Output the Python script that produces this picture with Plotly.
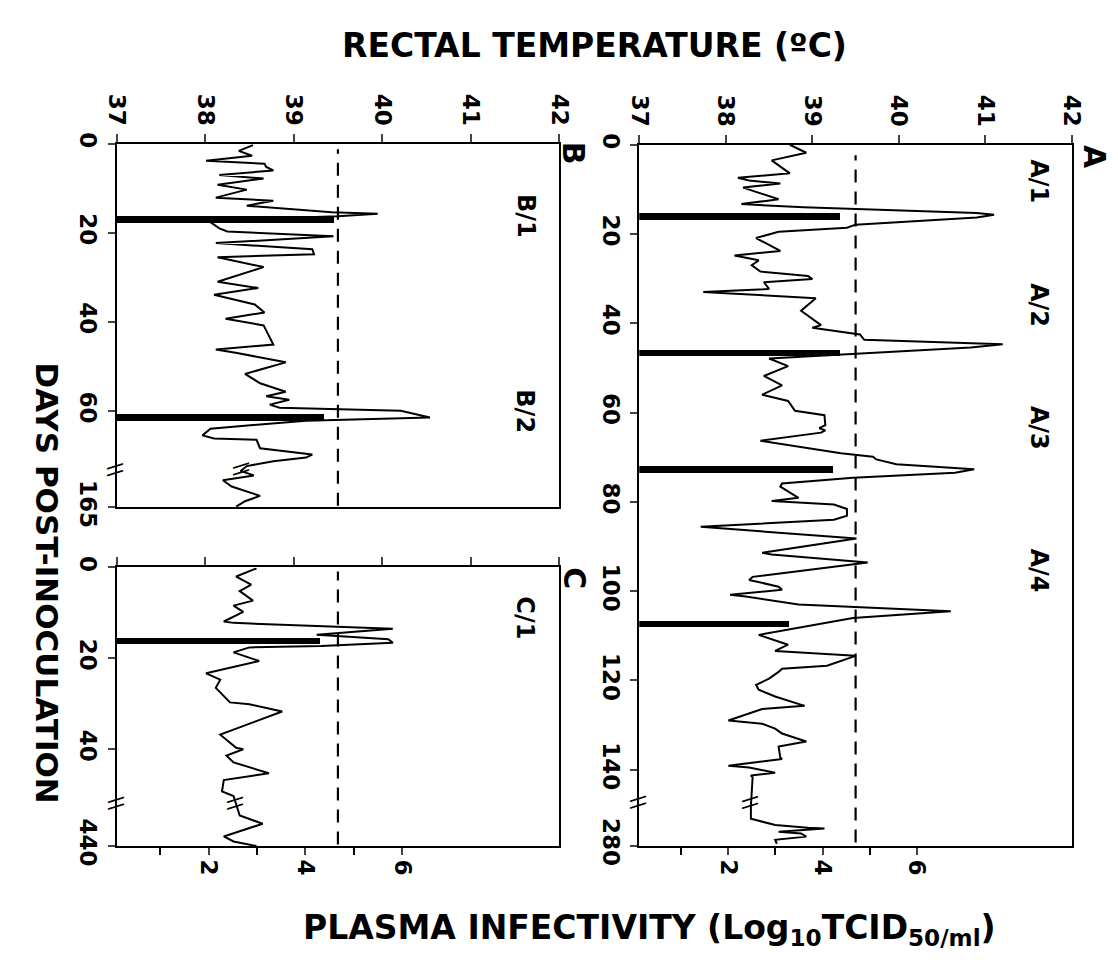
import plotly.graph_objects as go
import numpy as np

W, H = 1118, 977

# ---- panel A: rectal temperature (days post-inoculation, deg C) ----
a_days = [0, 1.8, 3.5, 6.4, 7.4, 8.0, 8.7, 9.6, 12.2, 13.3, 14.0, 15.3, 15.7, 16.3,
          17.9, 18.6, 19.5, 20.9, 23.8, 24.8, 25.9, 27.0, 28.4, 29.4, 30.1, 30.8,
          32.3, 33.0, 33.3, 34.4, 37.2, 40.4, 41.0, 42.5, 43.7, 44.7, 45.4, 46.7,
          47.0, 47.9, 49.6, 51.8, 53.9, 56.0, 57.4, 59.6, 60.6, 62.8, 63.5, 64.0,
          64.5, 66.3, 69.1, 69.9, 70.5, 71.6, 72.7, 73.5, 74.6, 75.9, 76.6, 79.1,
          79.8, 80.6, 81.6, 83.1, 84.0, 85.6, 88.2, 91.4, 91.8, 93.6, 96.8, 97.5,
          99.0, 99.7, 100.8, 101.2, 103.0, 104.5, 106.0, 109.8, 112.0, 113.4, 114.5,
          116.7, 117.4, 118.1, 119.6, 121.0, 122.1, 123.6, 125.7, 126.4, 129.0,
          129.7, 130.8, 131.9, 133.7, 134.8, 137.3, 137.6, 139.1, 139.5, 140.7,
          141.3, 141.7, 146.5,
          271.1, 274.0, 275.4, 276.0, 276.2, 276.9, 277.3, 278.0, 278.7, 279.6]
a_temp = [38.74, 38.93, 38.53, 38.74, 38.14, 38.27, 38.63, 38.20, 38.61, 38.18, 38.90,
          40.90, 41.10, 40.90, 39.50, 39.40, 38.61, 38.35, 38.63, 38.10, 38.38, 38.30,
          38.40, 38.95, 39.00, 38.44, 38.50, 37.74, 38.05, 39.04, 38.87, 39.10, 39.00,
          39.55, 39.60, 41.20, 40.83, 39.55, 39.30, 38.50, 38.72, 38.44, 38.65, 38.42,
          38.72, 38.80, 39.14, 39.15, 39.08, 39.15, 39.10, 38.40, 39.33, 39.70, 39.74,
          39.97, 40.87, 40.65, 39.47, 38.65, 38.63, 38.84, 38.53, 39.25, 39.40, 39.40,
          39.25, 37.71, 39.51, 38.42, 38.53, 39.64, 38.31, 38.27, 38.61, 38.65, 38.05,
          38.23, 38.84, 40.60, 39.47, 38.38, 38.72, 38.57, 39.50, 39.17, 38.65, 38.61,
          38.50, 38.35, 38.38, 38.57, 38.91, 38.42, 38.03, 38.42, 38.57, 38.65, 38.93,
          38.61, 38.63, 38.65, 38.03, 38.27, 38.57, 38.29, 38.31, 38.29,
          38.29, 38.29, 38.57, 38.95, 39.14, 38.61, 38.87, 38.93, 38.57, 38.59]
# plasma infectivity (log10 TCID50/ml)
a_bar_days = [16.0, 46.6, 72.7, 107.3]
a_bar_titer = [4.37, 4.37, 4.23, 3.30]
a_labels = ["A/1", "A/2", "A/3", "A/4"]

# ---- panel B ----
b_days = [0.3, 1.6, 2.7, 3.8, 4.5, 5.2, 6.0, 7.0, 7.8, 9.2, 10.3, 12.1, 12.8, 13.9,
          15.4, 15.7, 16.3, 17.2, 19.0, 19.7, 20.8, 22.3, 23.7, 24.8, 25.5, 27.7,
          31.0, 32.4, 33.9, 36.1, 37.9, 39.3, 40.8, 45.1, 46.2, 47.0, 49.1, 51.7,
          53.8, 55.7, 56.7, 57.5, 58.6, 59.3, 60.0, 61.5, 62.2, 64.0, 65.5, 66.2,
          66.5, 68.4, 69.8, 70.5, 71.3, 72.4,
          156.8, 157.8, 158.9, 160.3, 162.4, 163.6, 164.8]
b_temp = [38.54, 38.38, 38.53, 38.01, 38.67, 38.69, 38.77, 38.16, 38.66, 38.14, 38.47,
          38.12, 38.77, 38.47, 39.43, 39.95, 39.50, 38.03, 38.16, 38.25, 39.45, 38.12,
          39.21, 39.23, 38.14, 38.66, 38.14, 38.60, 38.10, 38.56, 38.67, 38.23, 38.66,
          38.77, 38.12, 38.36, 38.91, 38.45, 38.62, 38.91, 38.69, 38.95, 38.73, 38.84,
          40.21, 40.54, 39.14, 38.06, 37.97, 38.10, 38.58, 38.62, 39.21, 39.14, 38.77,
          38.47,
          38.40, 38.55, 38.20, 38.30, 38.62, 38.45, 38.35]
b_bar_days = [16.9, 61.5]
b_bar_titer = [4.59, 4.39]
b_labels = ["B/1", "B/2"]

# ---- panel C ----
c_days = [0.2, 2.0, 3.8, 5.2, 7.3, 8.4, 9.8, 11.9, 12.2, 13.5, 14.8, 15.8, 16.6, 17.3,
          17.6, 18.7, 19.4, 20.6, 23.3, 24.7, 26.5, 29.7, 30.1, 31.7, 36.8, 39.7,
          40.0, 41.4, 42.9, 45.3, 46.8, 49.3, 50.3,
          433.3, 435.1, 437.9, 439.0, 440.0]
c_temp = [38.58, 38.35, 38.52, 38.39, 38.54, 38.32, 38.43, 38.21, 38.32, 40.12, 39.26,
          40.07, 40.12, 39.31, 38.50, 38.32, 38.43, 38.61, 38.01, 38.17, 38.12, 38.28,
          38.50, 38.87, 38.17, 38.35, 38.43, 38.24, 38.32, 38.72, 38.21, 38.19, 38.32,
          38.39, 38.65, 38.21, 38.32, 38.58]
c_bar_days = [16.3]
c_bar_titer = [4.30]
c_labels = ["C/1"]

FEVER_LINE = 39.5
temp_ticks = [37, 38, 39, 40, 41, 42]


def px_x(a, b):
    return [a / W, b / W]


def px_y(top, bottom):
    return [1 - bottom / H, 1 - top / H]


def to_axis(days, brk, shift):
    # compress the stretch of days hidden by the axis break
    return [d if d <= brk else d - shift for d in days]


panels = [
    dict(days=a_days, temp=a_temp, bd=a_bar_days, bt=a_bar_titer, labels=a_labels,
         label_days=[8.2, 35.9, 63.4, 95.4], brk=147.0, shift=123.0, end=157.1,
         ticks=[0, 20, 40, 60, 80, 100, 120, 140, 280],
         dx=px_x(634, 1077), dy=px_y(130, 855), trange=[0.11, 9.29],
         top_labels=True, bottom_ticks=True, letter="A", letter_px=(1100, 143)),
    dict(days=b_days, temp=b_temp, bd=b_bar_days, bt=b_bar_titer, labels=b_labels,
         label_days=[16.1, 60.0], brk=72.8, shift=83.3, end=81.7,
         ticks=[0, 20, 40, 60, 165],
         dx=px_x(99, 552), dy=px_y(129, 505), trange=[0.1, 9.25],
         top_labels=True, bottom_ticks=False, letter="B", letter_px=(567, 139)),
    dict(days=c_days, temp=c_temp, bd=c_bar_days, bt=c_bar_titer, labels=c_labels,
         label_days=[11.1], brk=51.5, shift=378.7, end=61.3,
         ticks=[0, 20, 40, 440],
         dx=px_x(99, 552), dy=px_y(567, 855), trange=[0.1, 9.25],
         top_labels=False, bottom_ticks=True, letter="C", letter_px=(568, 578)),
]

tick_font = dict(family="DejaVu Sans", size=23, color="black", weight="bold")
fig = go.Figure()
annotations = []
shapes = []

for i, p in enumerate(panels):
    n = i + 1
    xt = "x" if n == 1 else f"x{2 * n - 1}"
    xb = f"x{2 * n}"
    ya = "y" if n == 1 else f"y{n}"
    ykey = "yaxis" if n == 1 else f"yaxis{n}"
    xtkey = "xaxis" if n == 1 else f"xaxis{2 * n - 1}"
    xbkey = f"xaxis{2 * n}"

    pos = to_axis(p["days"], p["brk"], p["shift"])
    fig.add_trace(go.Bar(x=p["bt"], y=p["bd"], orientation="h", width=1.5,
                         marker=dict(color="black", line=dict(width=0)),
                         xaxis=xb, yaxis=ya))
    fig.add_trace(go.Scatter(x=p["temp"], y=pos, mode="lines",
                             line=dict(color="black", width=2),
                             xaxis=xt, yaxis=ya))

    if p["bottom_ticks"]:
        bottom = dict(tickvals=[2, 4, 6], ticks="outside", ticklen=7, tickwidth=2,
                      minor=dict(tickvals=[1, 3, 5], ticks="outside", ticklen=7,
                                 tickwidth=2, tickcolor="black"))
    else:
        bottom = dict(showticklabels=False, ticks="")

    fig.update_layout(**{
        xtkey: dict(domain=p["dx"], anchor=ya, side="top", range=[37, 42],
                    tickvals=temp_ticks, ticks="outside", ticklen=8, tickwidth=2,
                    showticklabels=p["top_labels"], tickangle=90, tickfont=tick_font,
                    showline=True, linewidth=2, linecolor="black",
                    showgrid=False, zeroline=False),
        xbkey: dict(domain=p["dx"], anchor=ya, side="bottom", overlaying=xt,
                    range=p["trange"], tickangle=90, tickfont=tick_font,
                    showline=True, linewidth=2, linecolor="black",
                    showgrid=False, zeroline=False, **bottom),
        ykey: dict(domain=p["dy"], anchor=xt, range=[p["end"], 0],
                   tickvals=to_axis(p["ticks"], p["brk"], p["shift"]),
                   ticktext=[str(t) for t in p["ticks"]],
                   ticks="outside", ticklen=7, tickwidth=2, tickangle=90,
                   tickfont=tick_font, showline=True, mirror=True, linewidth=2,
                   linecolor="black", showgrid=False, zeroline=False),
    })

    # fever threshold
    shapes.append(dict(type="line", xref=xt, yref=f"{ya} domain", x0=FEVER_LINE,
                       x1=FEVER_LINE, y0=0.005, y1=0.985,
                       line=dict(color="black", width=2.2, dash="13px,9px")))

    # sub labels
    for lab, ld in zip(p["labels"], p["label_days"]):
        annotations.append(dict(text=lab, x=41.62, y=ld, xref=xt, yref=ya,
                                xanchor="center", yanchor="middle",
                                showarrow=False, textangle=90,
                                font=dict(family="DejaVu Sans", size=24,
                                          color="black", weight="bold")))

    # axis break marks
    brk_pos = p["brk"] + 0.4
    trace_t = float(np.interp(brk_pos, pos, p["temp"]))
    for xv in (37, trace_t):
        annotations.append(dict(text="\\\\", x=xv, y=brk_pos, xref=xt, yref=ya,
                                xanchor="center", yanchor="middle",
                                showarrow=False, textangle=90,
                                font=dict(family="DejaVu Sans", size=20,
                                          color="black")))

    lx, ly = p["letter_px"]
    annotations.append(dict(text=p["letter"], x=lx / W, y=1 - ly / H, xref="paper",
                            yref="paper", xanchor="center", yanchor="middle",
                            showarrow=False, textangle=90,
                            font=dict(family="DejaVu Sans", size=30, color="black",
                                      weight="bold")))

title_font = dict(family="DejaVu Sans", size=33, color="black", weight="bold")
annotations.append(dict(text="RECTAL TEMPERATURE (ºC)", x=588 / W, y=1 - 27 / H,
                        xref="paper", yref="paper", xanchor="center", yanchor="middle",
                        showarrow=False, font=title_font))
annotations.append(dict(text="PLASMA INFECTIVITY (Log<sub>10</sub>TCID<sub>50/ml</sub>)",
                        x=644 / W, y=1 - 941 / H, xref="paper", yref="paper",
                        xanchor="center", yanchor="middle",
                        showarrow=False, font=title_font))
annotations.append(dict(text="DAYS POST-INOCULATION", x=28 / W, y=1 - 583 / H,
                        xref="paper", yref="paper", xanchor="center", yanchor="middle",
                        showarrow=False, textangle=90,
                        font=dict(title_font, size=31)))

fig.update_layout(width=W, height=H, margin=dict(l=0, r=0, t=0, b=0),
                  paper_bgcolor="white", plot_bgcolor="white", showlegend=False,
                  bargap=0, annotations=annotations, shapes=shapes)

fig.write_html("out.html")
